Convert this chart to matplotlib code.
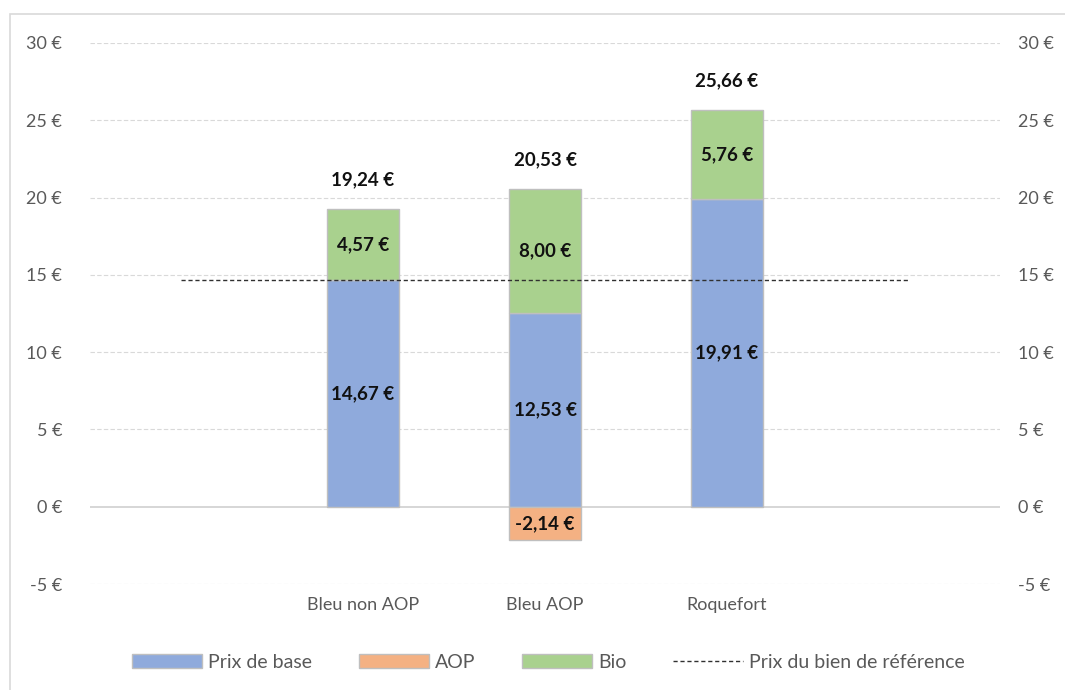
import matplotlib.pyplot as plt
from matplotlib.patches import Patch, Rectangle
from matplotlib.lines import Line2D

plt.rcParams["font.family"] = ["Lato", "DejaVu Sans"]

categories = ["", "Bleu non AOP", "Bleu AOP", "Roquefort", ""]
prix_base = [0, 14.67, 12.53, 19.91, 0]
aop = [0, 0, -2.14, 0, 0]
bio = [0, 4.57, 8.00, 5.76, 0]
totaux = [None, 19.24, 20.53, 25.66, None]
prix_reference = [14.67, 14.67, 14.67, 14.67, 14.67]

yticks = [-5, 0, 5, 10, 15, 20, 25, 30]

c_base = "#8FAADC"
c_aop = "#F4B183"
c_bio = "#A9D18E"
edge = "#BFBFBF"
grey_txt = "#595959"


def euro(v):
    return f"{v:.2f} €".replace(".", ",")


def edges(vals):
    return [edge if v else "none" for v in vals]


fig = plt.figure(figsize=(10.65, 6.9), dpi=100)
ax = fig.add_axes([0.0845, 0.1536, 0.8545, 0.7841])

x = list(range(len(categories)))
w = 0.4
ax.bar(x, prix_base, w, color=c_base, edgecolor=edges(prix_base), linewidth=1, zorder=3)
ax.bar(x, aop, w, color=c_aop, edgecolor=edges(aop), linewidth=1, zorder=3)
ax.bar(x, bio, w, bottom=prix_base, color=c_bio, edgecolor=edges(bio), linewidth=1, zorder=3)
ax.plot(x, prix_reference, color="#303030", ls=(0, (3, 2)), lw=1, zorder=4)

lab = dict(ha="center", va="center", fontsize=13.5, fontweight="bold", color="#111111", zorder=5)
for i in x:
    if prix_base[i]:
        ax.text(i, prix_base[i] / 2, euro(prix_base[i]), **lab)
    if aop[i]:
        ax.text(i, aop[i] / 2, euro(aop[i]), **lab)
    if bio[i]:
        ax.text(i, prix_base[i] + bio[i] / 2, euro(bio[i]), **lab)
    if totaux[i] is not None:
        ax.text(i, totaux[i] + 1.9, euro(totaux[i]), **lab)

ax.set_xlim(-0.5, len(categories) - 0.5)
ax.set_ylim(-5, 30)
ax.set_yticks(yticks)
ax.set_yticklabels([f"{t} €" for t in yticks])
ax.set_xticks(x)
ax.set_xticklabels(categories)
ax.tick_params(axis="both", length=0, labelsize=13, colors=grey_txt)
ax.tick_params(axis="x", pad=9)
ax.tick_params(axis="y", pad=20)

# same scale repeated on the right side
ax_r = ax.twinx()
ax_r.set_ylim(ax.get_ylim())
ax_r.set_yticks(yticks)
ax_r.set_yticklabels([f"{t} €" for t in yticks])
ax_r.tick_params(axis="y", length=0, labelsize=13, colors=grey_txt, pad=13)

for t in yticks:
    if t == 0:
        ax.axhline(0, color="#D0D0D0", lw=1.2, zorder=1)
    else:
        ax.axhline(t, color="#D9D9D9", lw=0.8, ls=(0, (4, 2)), zorder=1)
for a in (ax, ax_r):
    for s in a.spines.values():
        s.set_visible(False)

handles = [
    Patch(facecolor=c_base, edgecolor=edge, label="Prix de base"),
    Patch(facecolor=c_aop, edgecolor=edge, label="AOP"),
    Patch(facecolor=c_bio, edgecolor=edge, label="Bio"),
    Line2D([], [], color="#303030", ls=(0, (3, 2)), lw=1, label="Prix du bien de référence"),
]
leg = fig.legend(handles=handles, loc="center", bbox_to_anchor=(0.515, 0.04), ncol=4,
                 frameon=False, fontsize=14, handlelength=3.6, handleheight=0.75,
                 columnspacing=2.4, handletextpad=0.3)
for t in leg.get_texts():
    t.set_color(grey_txt)

fig.patches.append(Rectangle((0.0095, -0.01), 1.2, 0.99, transform=fig.transFigure,
                             fill=False, edgecolor="#D9D9D9", lw=1.2))

fig.savefig("out.png", dpi=100)
